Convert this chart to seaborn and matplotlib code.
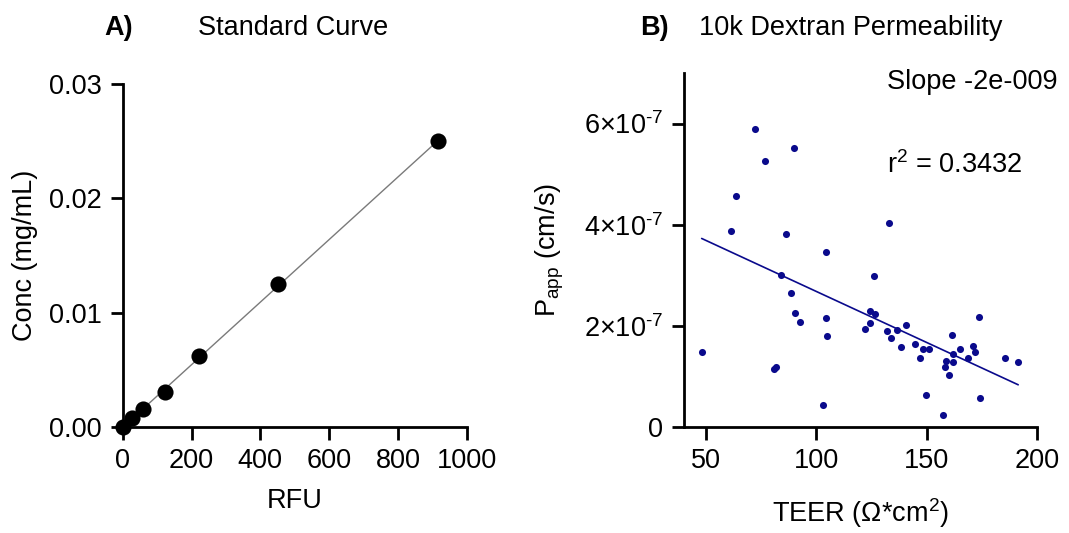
import matplotlib
matplotlib.use("Agg")
import matplotlib.pyplot as plt
import seaborn as sns
import pandas as pd
from matplotlib.ticker import FixedLocator, FuncFormatter

# panel A - standard curve
rfu = [0, 26, 58, 124, 223, 452, 917]
conc = [0, 0.00078125, 0.0015625, 0.003125, 0.00625, 0.0125, 0.025]

# panel B - permeability vs TEER (papp in units of 1e-7 cm/s)
teer = [48.0, 61.3, 63.4, 72.2, 76.7, 80.8, 81.6, 83.9, 86.3, 88.4, 90.1, 90.2,
        92.5, 102.9, 104.3, 104.6, 104.8, 122.3, 124.3, 124.3, 126.0, 126.7,
        132.1, 132.9, 133.8, 136.8, 138.2, 140.6, 144.6, 147.2, 148.2, 149.6,
        151.3, 157.5, 158.4, 158.8, 160.2, 161.4, 161.8, 162.0, 165.0, 168.8,
        170.9, 171.8, 173.9, 174.2, 185.5, 191.6]
papp = [1.49, 3.88, 4.57, 5.90, 5.25, 1.14, 1.18, 3.01, 3.82, 2.65, 5.51, 2.26,
        2.08, 0.44, 2.16, 3.46, 1.80, 1.94, 2.30, 2.05, 2.99, 2.24,
        1.89, 4.03, 1.76, 1.92, 1.59, 2.02, 1.65, 1.36, 1.55, 0.64,
        1.55, 0.24, 1.19, 1.30, 1.02, 1.81, 1.45, 1.28, 1.55, 1.37,
        1.60, 1.49, 2.18, 0.57, 1.37, 1.29]

slope_txt = "Slope -2e-009"
r2_txt = "r$^2$ = 0.3432"

sns.set_theme(style="ticks")
plt.rcParams["font.family"] = ["Liberation Sans", "DejaVu Sans"]
plt.rcParams["mathtext.fontset"] = "custom"
plt.rcParams["mathtext.rm"] = "Liberation Sans"
plt.rcParams["mathtext.it"] = "Liberation Sans:italic"
plt.rcParams["mathtext.bf"] = "Liberation Sans:bold"
plt.rcParams["text.color"] = "black"
plt.rcParams["axes.labelcolor"] = "black"
plt.rcParams["xtick.color"] = "black"
plt.rcParams["ytick.color"] = "black"

FS = 19.5
navy = "#0a0a8c"

df_a = pd.DataFrame({"RFU": rfu, "Conc": conc})
df_b = pd.DataFrame({"TEER": teer, "Papp": [v * 1e-7 for v in papp]})

fig = plt.figure(figsize=(10.69, 5.33), dpi=100)
ax1 = fig.add_axes([0.1148, 0.1983, 0.3218, 0.6441])
ax2 = fig.add_axes([0.6399, 0.1989, 0.3299, 0.6642])

# A) standard curve
sns.regplot(data=df_a, x="RFU", y="Conc", ax=ax1, ci=None, truncate=True,
            scatter_kws={"s": 135, "color": "black", "alpha": 1, "clip_on": False,
                         "zorder": 3, "linewidths": 0},
            line_kws={"color": "#7a7a7a", "linewidth": 1.0})
ax1.set_xlim(0, 1000)
ax1.set_ylim(0, 0.03)
ax1.xaxis.set_major_locator(FixedLocator([0, 200, 400, 600, 800, 1000]))
ax1.yaxis.set_major_locator(FixedLocator([0, 0.01, 0.02, 0.03]))
ax1.yaxis.set_major_formatter(FuncFormatter(lambda v, p: f"{v:.2f}"))
ax1.set_xlabel("RFU", fontsize=FS, labelpad=10)
ax1.set_ylabel("Conc (mg/mL)", fontsize=FS, labelpad=8)

# B) permeability
sns.regplot(data=df_b, x="TEER", y="Papp", ax=ax2, ci=None, truncate=True,
            scatter_kws={"s": 26, "color": navy, "alpha": 1, "linewidths": 0,
                         "zorder": 3},
            line_kws={"color": navy, "linewidth": 1.2})
ax2.set_xlim(40, 200)
ax2.set_ylim(0, 7e-7)
ax2.xaxis.set_major_locator(FixedLocator([50, 100, 150, 200]))
ax2.yaxis.set_major_locator(FixedLocator([0, 2e-7, 4e-7, 6e-7]))


def sci_fmt(v, p):
    if v == 0:
        return "0"
    return r"$%d{\times}10^{\text{-}7}$" % round(v * 1e7)


ax2.yaxis.set_major_formatter(FuncFormatter(sci_fmt))
ax2.set_xlabel(r"TEER ($\Omega$*cm$^2$)", fontsize=FS, labelpad=16)
ax2.set_ylabel(r"P$_{\rm app}$ (cm/s)", fontsize=FS, labelpad=13)
ax2.text(0.576, 0.975, slope_txt, transform=ax2.transAxes, fontsize=FS,
         va="center", ha="left")
ax2.text(0.576, 0.74, r2_txt, transform=ax2.transAxes, fontsize=FS,
         va="center", ha="left")

for ax in (ax1, ax2):
    sns.despine(ax=ax)
    for s in ("left", "bottom"):
        ax.spines[s].set_linewidth(2.0)
        ax.spines[s].set_color("black")
    ax.tick_params(axis="both", direction="out", length=9, width=2.0,
                   labelsize=FS, color="black", pad=6)

fig.text(0.111, 0.948, "A)", fontsize=FS, fontweight="bold", ha="center", va="center")
fig.text(0.2745, 0.948, "Standard Curve", fontsize=FS, ha="center", va="center")
fig.text(0.612, 0.948, "B)", fontsize=FS, fontweight="bold", ha="center", va="center")
fig.text(0.7955, 0.948, "10k Dextran Permeability", fontsize=FS, ha="center", va="center")

fig.savefig("out.png", dpi=100, facecolor="white")
